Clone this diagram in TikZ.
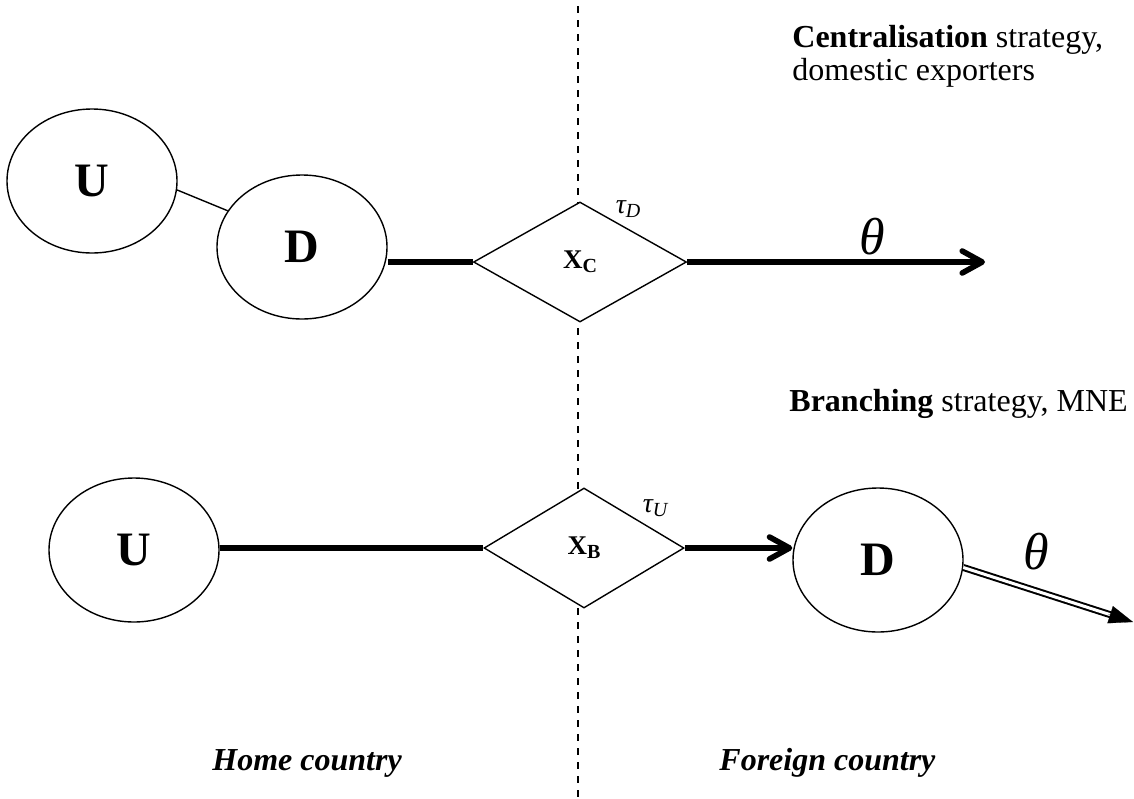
\documentclass[tikz,border=0pt]{standalone}
\usepackage{fontspec}
\setmainfont{Liberation Serif}
\usetikzlibrary{shapes.geometric,arrows.meta,calc}

\newcommand{\lowsub}[1]{\raisebox{-0.3ex}{\fontsize{10}{12}\selectfont #1}}

\begin{document}
\begin{tikzpicture}[
    x=0.5pt, y=-0.5pt,
    firm/.style={draw, ellipse, line width=0.7pt, fill=white, minimum width=85pt, minimum height=72pt, inner sep=0pt, font=\fontsize{24}{28}\selectfont\bfseries},
    hub/.style={draw, diamond, line width=0.7pt, fill=white, minimum height=60pt, inner sep=0pt, font=\fontsize{13.5}{16}\selectfont\bfseries},
    flow/.style={line width=2.8pt},
    head/.style={-{Straight Barb[round,length=10pt,width=11pt]}},
    txt/.style={inner sep=0pt, font=\fontsize{16}{16.5}\selectfont},
    place/.style={inner sep=0pt, font=\fontsize{16}{18}\selectfont\bfseries\itshape},
    big/.style={inner sep=0pt, font=\fontsize{26}{30}\selectfont\itshape},
    tax/.style={inner sep=0pt, font=\fontsize{14}{16}\selectfont\itshape}
]
\useasboundingbox (0,0) rectangle (1134,798);

\coordinate (bordertop) at (578,6);
\coordinate (borderbot) at (578,798);
\draw[line width=0.7pt, dash pattern=on 3.5pt off 3.5pt] (bordertop) -- (borderbot);

\node[firm] (Ua) at (92,181) {U};
\node[firm] (Da) at (302,247) {D};
\node[hub, minimum width=106.5pt] (Xc) at (580,262) {X\lowsub{C}};
\coordinate (endA) at (985,262);
\node[tax] (tauD) at (628,209) {τ\lowsub{D}};
\node[big] (thA) at (872,237) {θ};

\node[firm] (Ub) at (134,550) {U};
\node[hub, minimum width=100pt] (Xb) at (584,548) {X\lowsub{B}};
\node[firm] (Db) at (878,560) {D};
\coordinate (endB) at (1133,622);
\node[tax] (tauU) at (655,508) {τ\lowsub{U}};
\node[big] (thB) at (1036,552) {θ};

\node[txt, anchor=north west, align=left] (central) at (792,25) {\textbf{Centralisation} strategy,\\domestic exporters};
\node[txt, anchor=base west] (branch) at (789,411) {\textbf{Branching} strategy, MNE};
\node[place, anchor=base west] (home) at (212,770) {Home country};
\node[place, anchor=base west] (foreign) at (719,770) {Foreign country};

\draw[line width=0.7pt] (Ua.-6) -- (Da.154);
\draw[flow] (Da.east |- Xc.west) -- (Xc.west);
\draw[flow, head] (Xc.east) -- (endA);

\draw[flow] (Xb.west -| Ub.east) -- (Xb.west);
\draw[flow, head] (Xb.east) -- (Xb.east -| Db.west);
\draw[line width=1pt, double, double distance=1.5pt, shorten >=10pt] (Db.-5) -- (endB);
\draw[line width=0.1pt, -{Triangle[length=12pt,width=9pt]}] ($(endB)!13pt!(Db.-5)$) -- (endB);
\end{tikzpicture}
\end{document}
